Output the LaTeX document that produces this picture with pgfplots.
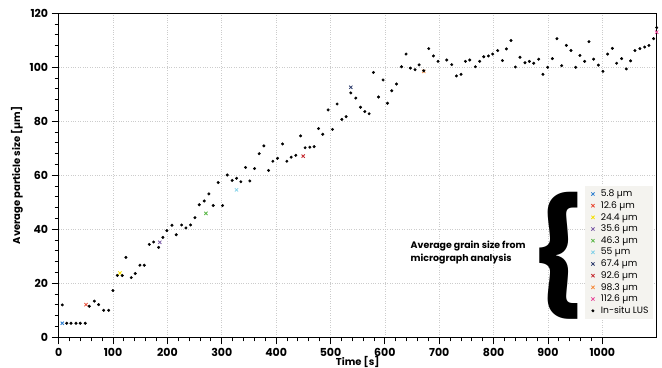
\documentclass[border=0pt]{standalone}
\usepackage{pgfplots}
\pgfplotsset{compat=1.18}
\usepackage{pgfplotstable}
\usepackage{fontspec}
\setmainfont{Poppins}
\usetikzlibrary{calc}
\definecolor{cA}{HTML}{2F7FD0}
\definecolor{cB}{HTML}{E8452E}
\definecolor{cC}{HTML}{F5E000}
\definecolor{cD}{HTML}{7A5AA6}
\definecolor{cE}{HTML}{5DB84A}
\definecolor{cF}{HTML}{7FD0E8}
\definecolor{cG}{HTML}{2B3A6B}
\definecolor{cH}{HTML}{C42A30}
\definecolor{cI}{HTML}{F58A3A}
\definecolor{cJ}{HTML}{E84A9A}
\definecolor{legbg}{HTML}{F4F3EF}
\pgfplotstableread{
t y
6.6 12.0
14.7 5.2
22.6 5.2
31.8 5.2
39.7 5.2
48.9 5.2
56.3 11.5
65.5 13.4
73.5 12.1
82.7 10.0
91.9 10.0
99.8 17.3
107.8 22.9
116.9 22.9
123.7 29.6
133.5 22.1
140.8 23.6
149.4 26.7
157.4 26.7
166.6 34.4
174.6 35.3
183.8 33.3
191.7 37.0
199 39.5
208.3 41.5
216.2 38.0
226.1 41.6
234 40.5
242.6 41.6
250.6 44.3
258.5 49.1
267.7 50.5
276.3 53.1
284.2 48.8
293.4 57.3
301.4 48.8
310 60.1
319.1 58.1
327.2 58.9
335.1 57.6
343.7 62.9
351.6 57.9
360.3 62.5
368.8 68.0
377.4 70.9
386 61.8
393.9 65.2
402.6 66.3
411.8 71.6
419.7 65.2
427.6 66.7
436.2 67.4
444.9 74.6
453.3 70.2
462 70.4
469.9 70.6
477.9 77.3
485.8 75.2
495.6 84.2
503.6 77.0
512.1 86.4
520.8 80.7
528.7 81.7
537.3 90.5
546.5 88.6
555.1 85.2
563.1 83.6
571 82.8
579 98.1
588.2 89.0
596.7 95.3
604.8 86.7
612.7 91.3
621.3 93.8
630.5 100.2
639 104.9
647 99.7
655.5 99.1
662.9 100.9
671.5 98.7
680.7 106.9
689.3 104.2
697.8 102.2
713.8 102.7
723 101.0
731.6 96.8
740.1 97.4
748.2 102.2
756.1 102.7
766.5 100.2
774.4 102.2
781.8 103.9
790.4 104.2
798.3 104.9
807.5 106.2
816.2 102.5
823.5 106.8
832 109.9
840 100.1
848.5 103.7
857.7 101.7
865.8 102.2
873.7 101.5
882.9 103.0
890.8 97.4
899.4 100.0
908.1 103.2
916.5 110.6
925.2 100.6
933.8 108.1
942.3 106.2
951 100.0
958.8 104.4
967.5 102.2
975.4 109.5
984 103.0
992.7 100.8
1001.1 98.5
1009.7 104.9
1018.4 107.0
1026.3 101.5
1035.5 103.2
1044.1 99.4
1052 102.4
1060 106.2
1069.1 106.9
1077.8 107.5
1085.7 108.1
1094.3 110.6
1100 114.7
}\lusdata
\begin{document}
\begin{tikzpicture}
\begin{axis}[
  name=ax, scale only axis, width=598pt, height=324pt,
  xmin=0, xmax=1100, ymin=0, ymax=120,
  xtick={0,100,...,1000}, ytick={0,20,...,120},
  minor x tick num=4, minor y tick num=4,
  tick align=outside, xtick pos=bottom, ytick pos=left,
  major tick length=7pt, minor tick length=4pt,
  tick style={black, line width=0.9pt},
  axis line style={line width=1.3pt, black},
  grid=major, major grid style={dotted, black!20, line width=0.7pt},
  /pgf/number format/assume math mode=true,
  /pgf/number format/1000 sep={},
  tick label style={font=\bfseries\fontsize{11}{12}\selectfont},
  xlabel={Time [s]}, ylabel={Average particle size [µm]},
  label style={font=\bfseries\fontsize{10}{12}\selectfont},
  xlabel style={inner sep=0pt, yshift=3pt},
  legend style={at={(1,0)}, anchor=south east, xshift=-4pt, yshift=18pt,
    fill=legbg, draw=none, font=\fontsize{9.2}{11}\selectfont,
    cells={anchor=west}, row sep=-0.6pt, inner xsep=2pt, inner ysep=2pt},
  legend cell align=left,
  legend image code/.code={\path[draw=none,fill=none] (0pt,-3pt) rectangle (12pt,3pt); \draw[#1] plot coordinates {(6pt,0pt)};},
  every axis plot/.append style={only marks},
]
\addplot[cA, mark=x, mark size=2.3pt, line width=0.8pt] coordinates {(6.6,5.2)};
\addlegendentry{5.8 µm}
\addplot[cB, mark=x, mark size=2.3pt, line width=0.8pt] coordinates {(50.2,12.1)};
\addlegendentry{12.6 µm}
\addplot[cC, mark=x, mark size=2.3pt, line width=0.8pt] coordinates {(112.7,23.8)};
\addlegendentry{24.4 µm}
\addplot[cD, mark=x, mark size=2.3pt, line width=0.8pt] coordinates {(186,35.2)};
\addlegendentry{35.6 µm}
\addplot[cE, mark=x, mark size=2.3pt, line width=0.8pt] coordinates {(270.8,45.9)};
\addlegendentry{46.3 µm}
\addplot[cF, mark=x, mark size=2.3pt, line width=0.8pt] coordinates {(327,54.6)};
\addlegendentry{55 µm}
\addplot[cG, mark=x, mark size=2.3pt, line width=0.8pt] coordinates {(537.3,92.6)};
\addlegendentry{67.4 µm}
\addplot[cH, mark=x, mark size=2.3pt, line width=0.8pt] coordinates {(449.7,67.1)};
\addlegendentry{92.6 µm}
\addplot[cI, mark=x, mark size=2.3pt, line width=0.8pt] coordinates {(671.5,98.5)};
\addlegendentry{98.3 µm}
\addplot[cJ, mark=x, mark size=2.3pt, line width=0.8pt] coordinates {(1100,113.0)};
\addlegendentry{112.6 µm}
\addplot[black, mark=*, mark size=1.3pt] table[x=t, y=y] {\lusdata};
\addlegendentry{In-situ LUS}
\node[anchor=west, align=left, font=\bfseries\fontsize{9.4}{13.6}\selectfont] at (axis cs:641,31.4) {Average grain size from\\micrograph analysis};
\node[font=\bfseries\fontsize{113}{113}\selectfont, inner sep=0pt] at (axis cs:917,30.1) {\{};
\end{axis}
\pgfresetboundingbox
\path[use as bounding box] ($(ax.south west)+(-58.7pt,-30.7pt)$) rectangle ($(ax.north east)+(5.3pt,13.3pt)$);
\end{tikzpicture}
\end{document}
